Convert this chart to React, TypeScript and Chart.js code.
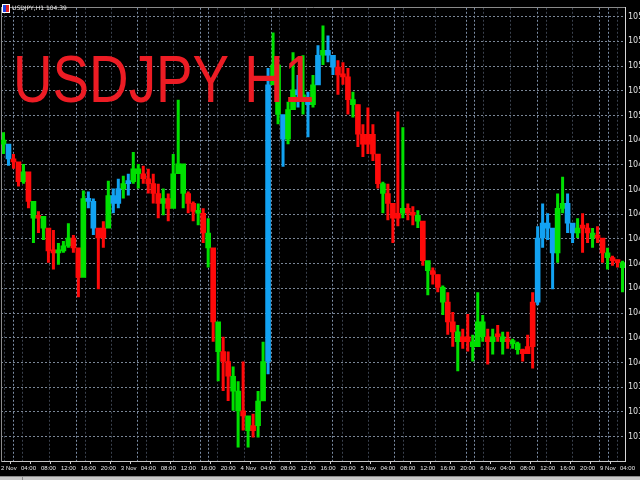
import React, { useEffect, useRef } from "react";
import { Chart, registerables } from "chart.js";

Chart.register(...registerables);

// ---- data (one hourly bar per slot) ----
const highs = [
  104.932, 104.864, 104.844, 104.812, 104.804, 104.696, 104.644, 104.612, 104.584, 104.484,
  104.536, 104.484, 104.492, 104.564, 104.516, 104.396, 104.696, 104.692, 104.664, 104.544,
  104.572, 104.736, 104.704, 104.744, 104.756, 104.764, 104.852, 104.804, 104.796, 104.784,
  104.764, 104.724, 104.704, 104.684, 104.844, 105.064, 104.804, 104.692, 104.652, 104.644,
  104.624, 104.584, 104.404, 104.124, 104.104, 104.044, 103.984, 103.924, 104.004, 103.764,
  103.792, 103.884, 104.084, 105.192, 105.336, 105.204, 104.964, 105.056, 105.256, 105.164,
  105.244, 105.096, 105.164, 105.284, 105.364, 105.324, 105.224, 105.224, 105.216, 105.192,
  105.096, 105.044, 104.964, 105.032, 104.964, 104.824, 104.732, 104.724, 104.644, 105.016,
  104.952, 104.644, 104.632, 104.616, 104.552, 104.404, 104.384, 104.356, 104.312, 104.284,
  104.204, 104.152, 104.136, 104.196, 104.112, 104.284, 104.192, 104.136, 104.136, 104.152,
  104.124, 104.124, 104.096, 104.084, 104.056, 104.112, 104.284, 104.552, 104.644, 104.604,
  104.536, 104.684, 104.752, 104.684, 104.564, 104.584, 104.604, 104.564, 104.544, 104.552,
  104.484, 104.464, 104.432, 104.416, 104.412,
];

const lows = [
  104.844, 104.796, 104.784, 104.712, 104.724, 104.624, 104.484, 104.524, 104.496, 104.404,
  104.376, 104.396, 104.444, 104.464, 104.444, 104.264, 104.416, 104.624, 104.516, 104.296,
  104.464, 104.544, 104.604, 104.624, 104.664, 104.676, 104.724, 104.704, 104.724, 104.684,
  104.644, 104.584, 104.596, 104.572, 104.644, 104.784, 104.624, 104.604, 104.572, 104.556,
  104.484, 104.384, 104.084, 103.924, 103.884, 103.844, 103.804, 103.656, 103.724, 103.656,
  103.696, 103.696, 103.844, 103.952, 105.136, 104.964, 104.792, 104.884, 105.032, 105.032,
  105.004, 104.912, 105.032, 105.176, 105.204, 105.216, 105.164, 105.084, 105.124, 105.004,
  104.992, 104.872, 104.832, 104.844, 104.816, 104.704, 104.604, 104.576, 104.484, 104.552,
  104.584, 104.576, 104.556, 104.544, 104.392, 104.272, 104.316, 104.284, 104.192, 104.112,
  104.064, 103.964, 104.056, 104.044, 104.004, 104.084, 104.084, 103.992, 104.032, 104.084,
  104.032, 104.056, 104.056, 104.032, 104.004, 104.044, 103.976, 104.232, 104.464, 104.496,
  104.296, 104.404, 104.604, 104.524, 104.484, 104.504, 104.444, 104.484, 104.464, 104.484,
  104.404, 104.376, 104.392, 104.384, 104.284,
];

const firstOpen = 104.9;
const closes = [
  104.884, 104.824, 104.812, 104.732, 104.772, 104.652, 104.584, 104.592, 104.544, 104.452,
  104.444, 104.452, 104.472, 104.504, 104.464, 104.344, 104.664, 104.652, 104.544, 104.504,
  104.544, 104.676, 104.644, 104.704, 104.724, 104.732, 104.784, 104.764, 104.744, 104.724,
  104.684, 104.644, 104.664, 104.624, 104.764, 104.804, 104.684, 104.644, 104.612, 104.604,
  104.524, 104.464, 104.164, 104.044, 104.004, 103.944, 103.884, 103.804, 103.784, 103.724,
  103.744, 103.844, 104.004, 105.124, 105.204, 105.004, 104.904, 105.024, 105.104, 105.084,
  105.064, 105.044, 105.124, 105.244, 105.264, 105.244, 105.196, 105.164, 105.156, 105.064,
  105.044, 104.924, 104.884, 104.924, 104.844, 104.724, 104.684, 104.644, 104.584, 104.604,
  104.624, 104.604, 104.596, 104.572, 104.412, 104.372, 104.356, 104.304, 104.244, 104.164,
  104.124, 104.084, 104.104, 104.084, 104.064, 104.164, 104.104, 104.084, 104.104, 104.104,
  104.084, 104.084, 104.076, 104.052, 104.036, 104.064, 104.244, 104.504, 104.564, 104.544,
  104.444, 104.624, 104.644, 104.564, 104.524, 104.544, 104.544, 104.524, 104.504, 104.504,
  104.444, 104.424, 104.412, 104.404, 104.384,
];

// g = rising (green), r = falling (red), b = strong trend (blue)
const tones = (
  "gbrrgrgrgr" + "rgggrrgbbr" + "rgbbgbggrr" + "rrgrgggrrg" + "rgrgrrggrg" +
  "rggbggbggb" + "gbgbgbbrrr" + "grrrrrgrrr" + "grrgrgrrgr" + "rgrrgggrgr" +
  "grggrrrbbb" + "bggbbgrrgr" + "rgrrg"
).split("");

const labelTimes = [
  0, 4, 8, 12, 16, 20, 24, 28, 32, 36, 40, 44, 48, 52, 56, 60,
  64, 68, 72, 76, 80, 84, 88, 92, 96, 100, 104, 108, 112, 116, 120, 124,
];
const xLabels = [
  "2 Nov", "04:00", "08:00", "12:00", "16:00", "20:00",
  "3 Nov", "04:00", "08:00", "12:00", "16:00", "20:00",
  "4 Nov", "04:00", "08:00", "12:00", "16:00", "20:00",
  "5 Nov", "04:00", "08:00", "12:00", "16:00", "20:00",
  "6 Nov", "04:00", "08:00", "12:00", "16:00", "20:00",
  "9 Nov", "04:00",
];

const gridTimes = [
  1.7, 3.5, 5.3, 14.2, 16.0, 17.7, 26.5, 28.3, 30.1, 39.1, 40.8, 42.5, 44.3,
  53.2, 55.0, 56.7, 65.6, 67.4, 69.3, 77.9, 79.8, 81.6, 92.3, 94.1, 95.8, 97.6,
  106.5, 108.3, 110.1, 119.0, 120.7, 122.5, 124.3,
];
const gridBright = [
  0, 1, 0, 0, 1, 0, 0, 1, 0, 0, 1, 1, 0,
  0, 1, 0, 0, 1, 0, 0, 1, 0, 0, 1, 1, 0,
  0, 1, 0, 0, 1, 1, 0,
];

const priceMin = 103.601;
const priceMax = 105.436;
const priceStep = 0.1;

const TITLE = "USDJPY H1";
const INFO = "USDJPY,H1 104.39";

const TONE: Record<string, string> = { g: "#00e000", r: "#ff0a0a", b: "#12a2f2" };

const overlay = {
  id: "overlay",
  beforeDraw(chart: any) {
    const { ctx, width, height } = chart;
    ctx.save();
    ctx.fillStyle = "#000000";
    ctx.fillRect(0, 0, width, height);
    ctx.restore();
  },
  afterDatasetsDraw(chart: any) {
    const { ctx } = chart;
    ctx.save();
    ctx.fillStyle = "#ed1c24";
    ctx.font = '66px "Liberation Sans", Arial, sans-serif';
    ctx.textBaseline = "alphabetic";
    ctx.translate(13, 102);
    ctx.scale(0.83, 1);
    ctx.fillText(TITLE, 0, 0);
    ctx.restore();
  },
  afterDraw(chart: any) {
    const { ctx, width } = chart;
    ctx.save();
    ctx.fillStyle = "#ffffff";
    ctx.fillRect(2, 4, 8, 9);
    ctx.fillStyle = "#2040e0";
    ctx.fillRect(3, 5, 3, 7);
    ctx.fillStyle = "#e02020";
    ctx.fillRect(6, 5, 3, 7);
    ctx.fillStyle = "#e8e8e8";
    ctx.font = '6px "DejaVu Sans", sans-serif';
    ctx.textBaseline = "middle";
    ctx.fillText(INFO, 12, 8.5);
    ctx.fillStyle = "#c8c8c8";
    ctx.fillRect(0, 476, width, 4);
    ctx.fillStyle = "#8a8a8a";
    ctx.fillRect(0, 476, width, 1);
    ctx.fillRect(22, 476, 1, 4);
    ctx.restore();
  },
};

export default function App() {
  const ref = useRef<HTMLCanvasElement>(null);
  useEffect(() => {
    if (!ref.current) return;
    const colors = tones.map((t) => TONE[t]);
    const chart = new Chart(ref.current, {
      type: "bar",
      data: {
        datasets: [
          {
            label: "body",
            data: closes.map((c, i) => ({ x: i + 0.5, y: [i === 0 ? firstOpen : closes[i - 1], c] })) as any,
            backgroundColor: colors,
            borderWidth: 0,
            barPercentage: 1,
            categoryPercentage: 1,
            minBarLength: 3,
            grouped: false,
            order: 0,
            xAxisID: "x",
            yAxisID: "y",
          } as any,
          {
            label: "range",
            data: highs.map((h, i) => ({ x: i + 0.5, y: [lows[i], h] })) as any,
            backgroundColor: colors,
            borderWidth: 0,
            barPercentage: 0.6,
            categoryPercentage: 1,
            grouped: false,
            order: 1,
            xAxisID: "x",
            yAxisID: "y",
          } as any,
        ],
      },
      options: {
        animation: false,
        responsive: false,
        events: [],
        layout: { padding: { top: 2, left: 1, right: 0, bottom: 0 } },
        plugins: { legend: { display: false }, tooltip: { enabled: false }, title: { display: false } },
        scales: {
          x: {
            type: "linear",
            position: "bottom",
            min: 0,
            max: 125,
            offset: false,
            afterFit: (s: any) => { s.height = 19; },
            afterBuildTicks: (s: any) => { s.ticks = labelTimes.map((v) => ({ value: v })); },
            ticks: {
              autoSkip: false,
              maxRotation: 0,
              minRotation: 0,
              align: "start",
              color: "#e8e8e8",
              padding: 1,
              font: { size: 6, family: '"Liberation Sans", sans-serif' },
              callback: (_v: any, i: number) => xLabels[i],
            },
            grid: { drawOnChartArea: false, drawTicks: true, tickLength: 3, tickColor: "#d0d0d0" },
            border: { color: "#c8c8c8", width: 1 },
          },
          xg: {
            type: "linear",
            position: "bottom",
            min: 0,
            max: 125,
            offset: false,
            afterFit: (s: any) => { s.height = 0; },
            afterBuildTicks: (s: any) => { s.ticks = gridTimes.map((v) => ({ value: v })); },
            ticks: { display: false },
            grid: {
              drawTicks: false,
              color: (c: any) => (gridBright[c.index] ? "#7b8ca4" : "#3a414e"),
            },
            border: { display: false, dash: [2, 2] },
          },
          xt: {
            type: "linear",
            position: "top",
            min: 0,
            max: 125,
            afterFit: (s: any) => { s.height = 0; },
            ticks: { display: false },
            grid: { display: false, drawTicks: false },
            border: { color: "#8a8a8a", width: 1 },
          },
          y: {
            type: "linear",
            position: "right",
            min: priceMin,
            max: priceMax,
            afterFit: (s: any) => { s.width = 15; },
            ticks: {
              stepSize: priceStep,
              includeBounds: false,
              color: "#e0e0e0",
              padding: 3,
              font: { size: 8, family: '"DejaVu Sans", sans-serif' },
              callback: (v: any) => Number(v).toFixed(2),
            },
            grid: { color: "#7a8696", drawTicks: false },
            border: { color: "#d8d8d8", width: 1, dash: [2, 2] },
          },
          yl: {
            type: "linear",
            position: "left",
            min: priceMin,
            max: priceMax,
            afterFit: (s: any) => { s.width = 0; },
            ticks: { display: false },
            grid: { display: false, drawTicks: false },
            border: { color: "#8a8a8a", width: 1 },
          },
        },
      } as any,
      plugins: [overlay],
    });
    return () => chart.destroy();
  }, []);
  return (
    <div style={{ position: "fixed", left: 0, top: 0, width: 640, height: 480, background: "#000" }}>
      <canvas ref={ref} width={640} height={480} style={{ display: "block" }} />
    </div>
  );
}
